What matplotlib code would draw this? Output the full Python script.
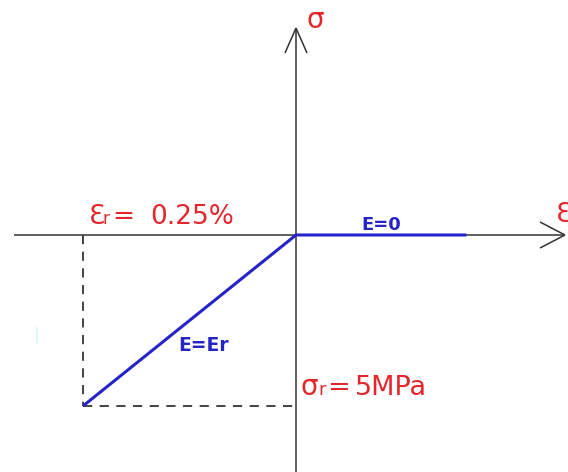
import matplotlib
matplotlib.use("Agg")
import matplotlib.pyplot as plt

# Bilinear stress-strain law (strain in %, stress in MPa)
strain = [-0.25, 0.0, 0.20]
stress = [-5.0, 0.0, 0.0]
eps_r = -0.25
sig_r = -5.0

RED = "#e3262b"
BLUE = "#2424c8"
AXIS = "#333333"

W, H = 568, 472
fig = plt.figure(figsize=(W / 100, H / 100), dpi=100)
ax = fig.add_axes([0, 0, 1, 1])
ax.set_xlim(-0.3474, 0.3192)
ax.set_ylim(-6.930, 6.871)
ax.axis("off")


def px(x, y):
    # pixel position (from top-left) -> data coords
    return ax.transData.inverted().transform((x, H - y))


def seg(p0, p1, **kw):
    a, b = px(*p0), px(*p1)
    ax.plot([a[0], b[0]], [a[1], b[1]], **kw)


# axes with open chevron arrowheads
ax_kw = dict(color=AXIS, lw=1.1, solid_capstyle="butt", zorder=2)
seg((14, 235), (565, 235), **ax_kw)
seg((540, 222), (565, 235), **ax_kw)
seg((540, 248), (565, 235), **ax_kw)
seg((296, 28), (296, 472), **ax_kw)
seg((285, 53), (296, 28), **ax_kw)
seg((307, 53), (296, 28), **ax_kw)

# guide lines to the failure point
dash_kw = dict(color="#222222", lw=1.2, dashes=(5.5, 4.5), zorder=1)
ax.plot([eps_r, eps_r], [0, sig_r], **dash_kw)
ax.plot([eps_r, 0], [sig_r, sig_r], **dash_kw)

# the law itself
ax.plot(strain, stress, color=BLUE, lw=2.2, solid_capstyle="butt", zorder=3)

# faint scan mark
seg((37, 328), (37, 342), color="#e4f5f7", lw=1.5, zorder=0)


def label(x, y, s, size, color=RED, weight="normal"):
    xd, yd = px(x, y)
    ax.text(xd, yd, s, fontsize=size, color=color, fontweight=weight,
            family="DejaVu Sans", ha="left", va="baseline", zorder=4)


label(307, 28, "σ", 20)
label(556, 222, "Ɛ", 19)

label(89, 224, "Ɛ", 19)
label(103, 224, "r", 12)
label(112, 224, "=", 19)
label(150, 224, "0.25%", 19)

label(301, 395, "σ", 20)
label(318, 395, "r", 13)
label(327, 395, "=", 19.5)
label(355, 395, "5MPa", 19.5)

label(361, 230, "E=0", 13, BLUE, "bold")
label(178, 351, "E=Er", 13.5, BLUE, "bold")

fig.savefig("out.png", dpi=100)
